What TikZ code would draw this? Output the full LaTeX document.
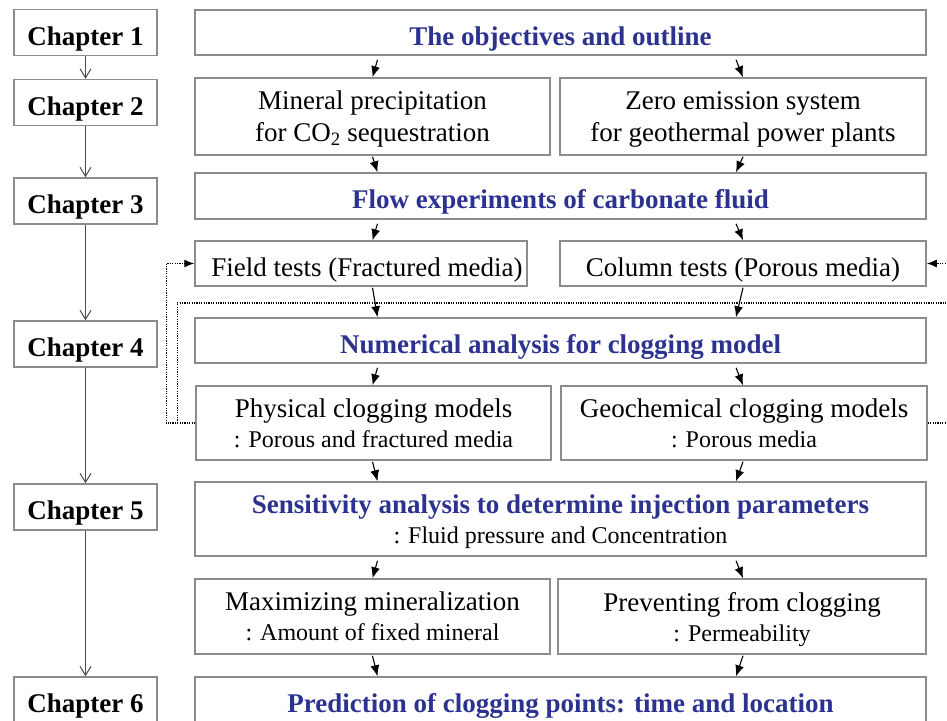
\documentclass[tikz,border=0pt]{standalone}
\usepackage{fontspec}
\setmainfont{Liberation Serif}
\usetikzlibrary{arrows.meta,calc}

\definecolor{headblue}{RGB}{44,50,143}
\definecolor{boxgray}{RGB}{140,140,140}
\newcommand{\bigsz}{\fontsize{27}{30}\selectfont}
\newcommand{\subsz}{\fontsize{24}{30}\selectfont}

\begin{document}
\begin{tikzpicture}[x=1pt,y=-1pt,
    box/.style={draw=boxgray,line width=1.5pt,inner sep=0pt,text depth=0pt,align=center,font=\bigsz,
      execute at begin node={\rule{0pt}{25pt}}},
    chap/.style={box,minimum width=143pt,minimum height=46pt,font=\bigsz\bfseries},
    wide/.style={box,minimum width=731pt},
    head/.style={text=headblue,font=\bigsz\bfseries},
    arr/.style={-{Latex[length=11pt,width=9pt]},line width=1.1pt},
    carr/.style={-{Straight Barb[length=9pt,width=11pt]},line width=1pt,draw=black!70},
    fb/.style={line width=1.3pt,dash pattern=on 1.2pt off 1.2pt}]
    \useasboundingbox (0,0) rectangle (947,720);
    \clip (0,0) rectangle (947,720);
                % chapter column
                \node[chap](ch1)at(85.5, 32.5){Chapter 1};
                \node[chap](ch2)at(85.5, 102.5){Chapter 2};
                \node[chap](ch3)at(85.5, 201){Chapter 3};
                \node[chap](ch4)at(85.5, 344){Chapter 4};
                \node[chap](ch5)at(85.5, 507){Chapter 5};
                \node[chap](ch6)at(85.5, 700){Chapter 6};
                % main column
                \node[wide,head,minimum height=45pt](obj)at(560.5, 32.5){The objectives and outline};
                \node[box,minimum width=355pt,minimum height=77pt](mineral)at(372.5, 116.5){Mineral precipitation\\[2pt]for CO\textsubscript{2} sequestration};
                \node[box,minimum width=366pt,minimum height=77pt](zero)at(743, 116.5){Zero emission system\\[2pt]for geothermal power plants};
                \node[wide,head,minimum height=46pt](flow)at(560.5, 196){Flow experiments of carbonate fluid};
                \node[box,minimum width=332pt,minimum height=45pt](field)at(361, 263.5){\hspace*{12pt}Field tests (Fractured media)};
                \node[box,minimum width=366pt,minimum height=45pt](column)at(743, 263.5){Column tests (Porous media)};
                \node[wide,head,minimum height=45pt](numer)at(560.5, 340.5){Numerical analysis for clogging model};
                \node[box,minimum width=355pt,minimum height=74pt](phys)at(373.5, 423){Physical clogging models\\\subsz : Porous and fractured media};
                \node[box,minimum width=366pt,minimum height=74pt](geo)at(744, 423){Geochemical clogging models\\\subsz : Porous media};
                \node[wide,minimum height=74pt](sens)at(560.5, 519){\textcolor{headblue}{\bfseries Sensitivity analysis to determine injection parameters}\\\subsz : Fluid pressure and Concentration};
                \node[box,minimum width=355pt,minimum height=75pt](max)at(372.5, 616.5){Maximizing mineralization\\\subsz : Amount of fixed mineral};
                \node[box,minimum width=368pt,minimum height=75pt](prev)at(742, 616.5){Preventing from clogging\\\subsz : Permeability};
                \node[wide,head,minimum height=46pt](pred)at(560.5, 700){Prediction of clogging points: time and location};
                \coordinate(lx)at(372.5, 0);
                \coordinate(rx)at(743, 0);
                \coordinate(farR)at(957, 303);
                % chapter arrows
                \path[carr](ch1) edge (ch2)
                (ch2) edge (ch3)
                (ch3) edge (ch4)
                (ch4) edge (ch5)
                (ch5) edge (ch6);
                % flow arrows
                \path[arr]($(obj.south -| lx)+(5,4)$) edge (mineral.north -| lx)
                ($(obj.south -| rx)+(-7,4)$) edge (zero.north -| rx)
                ($(mineral.south -| lx)+(0,1)$) edge ($(flow.north -| lx)+(5,0)$)
                ($(zero.south -| rx)+(0,1)$) edge ($(flow.north -| rx)+(-7,0)$)
                ($(flow.south -| lx)+(5,4)$) edge (field.north -| lx)
                ($(flow.south -| rx)+(-7,4)$) edge (column.north -| rx)
                ($(field.south -| lx)+(0,1)$) edge ($(numer.north -| lx)+(5,0)$)
                ($(column.south -| rx)+(0,1)$) edge ($(numer.north -| rx)+(-7,0)$)
                ($(numer.south -| lx)+(5,4)$) edge (phys.north -| lx)
                ($(numer.south -| rx)+(-7,4)$) edge (geo.north -| rx)
                ($(phys.south -| lx)+(0,1)$) edge ($(sens.north -| lx)+(5,0)$)
                ($(geo.south -| rx)+(0,1)$) edge ($(sens.north -| rx)+(-7,0)$)
                ($(sens.south -| lx)+(5,4)$) edge (max.north -| lx)
                ($(sens.south -| rx)+(-7,4)$) edge (prev.north -| rx)
                ($(max.south -| lx)+(0,1)$) edge ($(pred.north -| lx)+(5,0)$)
                ($(prev.south -| rx)+(0,1)$) edge ($(pred.north -| rx)+(-7,0)$);
                % feedback loops
                \draw[fb,-{Latex[length=10pt,width=8pt]}](phys.west) -- ++(-29,0) |- (field.west);
                \draw[fb,-{Latex[length=10pt,width=8pt]}]($(phys.west)+(-18,0)$) |- (farR) |- (column.east);
                \draw[fb](geo.east) -| (farR);
            \end{tikzpicture}
\end{document}
